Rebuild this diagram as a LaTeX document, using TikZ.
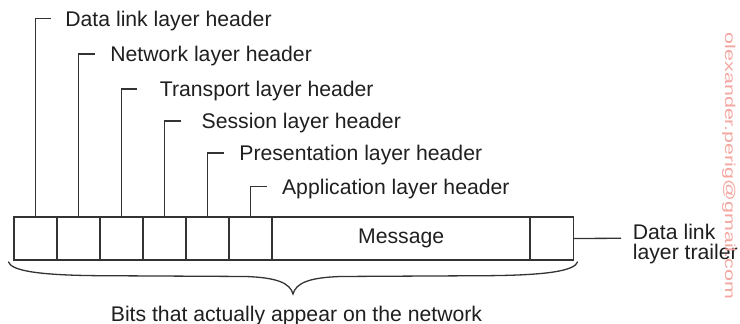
\documentclass[tikz,border=0pt]{standalone}
\usepackage{fontspec}
\setmainfont{Liberation Sans}
\usetikzlibrary{positioning}
\definecolor{mailpink}{RGB}{244,166,160}
\newcommand{\hfont}{\fontsize{10.6}{12}\selectfont}
\tikzset{
  cell/.style={draw=black!80, line width=0.65pt, minimum width=21.5pt, minimum height=21.5pt, inner sep=0pt, outer sep=0pt},
  hdr/.style={anchor=west, inner sep=0pt, text height=7.6pt, text depth=0pt},
  lead/.style={draw=black!80, line width=0.65pt},
}

\begin{document}
\begin{tikzpicture}[x=0.5pt, y=-0.5pt, font=\hfont, every node/.append style={text=black!88}]
		\useasboundingbox (0,0) rectangle (740,324);
		
		\node[cell] (h1) at (35.5,238.5) {};
		\node[cell] (h2) at (78.5,238.5) {};
		\node[cell] (h3) at (121.5,238.5) {};
		\node[cell] (h4) at (164.5,238.5) {};
		\node[cell] (h5) at (207.5,238.5) {};
		\node[cell] (h6) at (250.5,238.5) {};
		\node[cell, minimum width=128.85pt] (msg) at (401.15,238.5) {Message};
		\node[cell] (tr) at (551.7,238.5) {};
		
		\node[hdr] (dlh) at (65,18.7) {Data link layer header};
		\node[hdr] (nwh) at (110,53.9) {Network layer header};
		\node[hdr] (tph) at (159.5,88.9) {Transport layer header};
		\node[hdr] (ssh) at (201.3,121.1) {Session layer header};
		\node[hdr] (prh) at (239,152.9) {Presentation layer header};
		\node[hdr] (aph) at (281.7,186.8) {Application layer header};
		
		\coordinate (s1) at (50.5,18.7);
		\coordinate (s2) at (95,53.9);
		\coordinate (s3) at (137.3,88.9);
		\coordinate (s4) at (181,121.1);
		\coordinate (s5) at (224,152.9);
		\coordinate (s6) at (266.7,186.8);
		
		\draw[lead] (h1.north) |- (s1);
		\draw[lead] (h2.north) |- (s2);
		\draw[lead] (h3.north) |- (s3);
		\draw[lead] (h4.north) |- (s4);
		\draw[lead] (h5.north) |- (s5);
		\draw[lead] (h6.north) |- (s6);
		
		\coordinate (tlend) at (621,238.3);
		\draw[lead] (tr.east) -- (tlend);
		\node[anchor=west, align=left, inner sep=0pt, font=\fontsize{10.6}{10.35}\selectfont] (dlt) at (632.5,244) {Data link\\layer trailer};
		
		\coordinate (bl) at (8.3,261.7);
		\coordinate (br) at (577.7,261.7);
		\coordinate (tip) at (293,294);
		\draw[lead] (bl) .. controls (11,271) and (40,275.3) .. (100,275.7) -- (245,276.5)
			.. controls (277,277.5) and (290,283) .. (tip)
			.. controls (296,283) and (309,277.5) .. (341,276.5) -- (486,275.7)
			.. controls (546,275.3) and (575,271) .. (br);
		\node[anchor=base, inner sep=0pt] (bits) at (296.5,321.5) {Bits that actually appear on the network};
		
		\node[rotate=-90, anchor=base west, inner sep=0pt, text=mailpink, font=\fontsize{7.15}{8}\selectfont] (mail) at (725,32.5) {\scalebox{1.5}[1]{olexander.perig@gmail.com}};
	\end{tikzpicture}
\end{document}
